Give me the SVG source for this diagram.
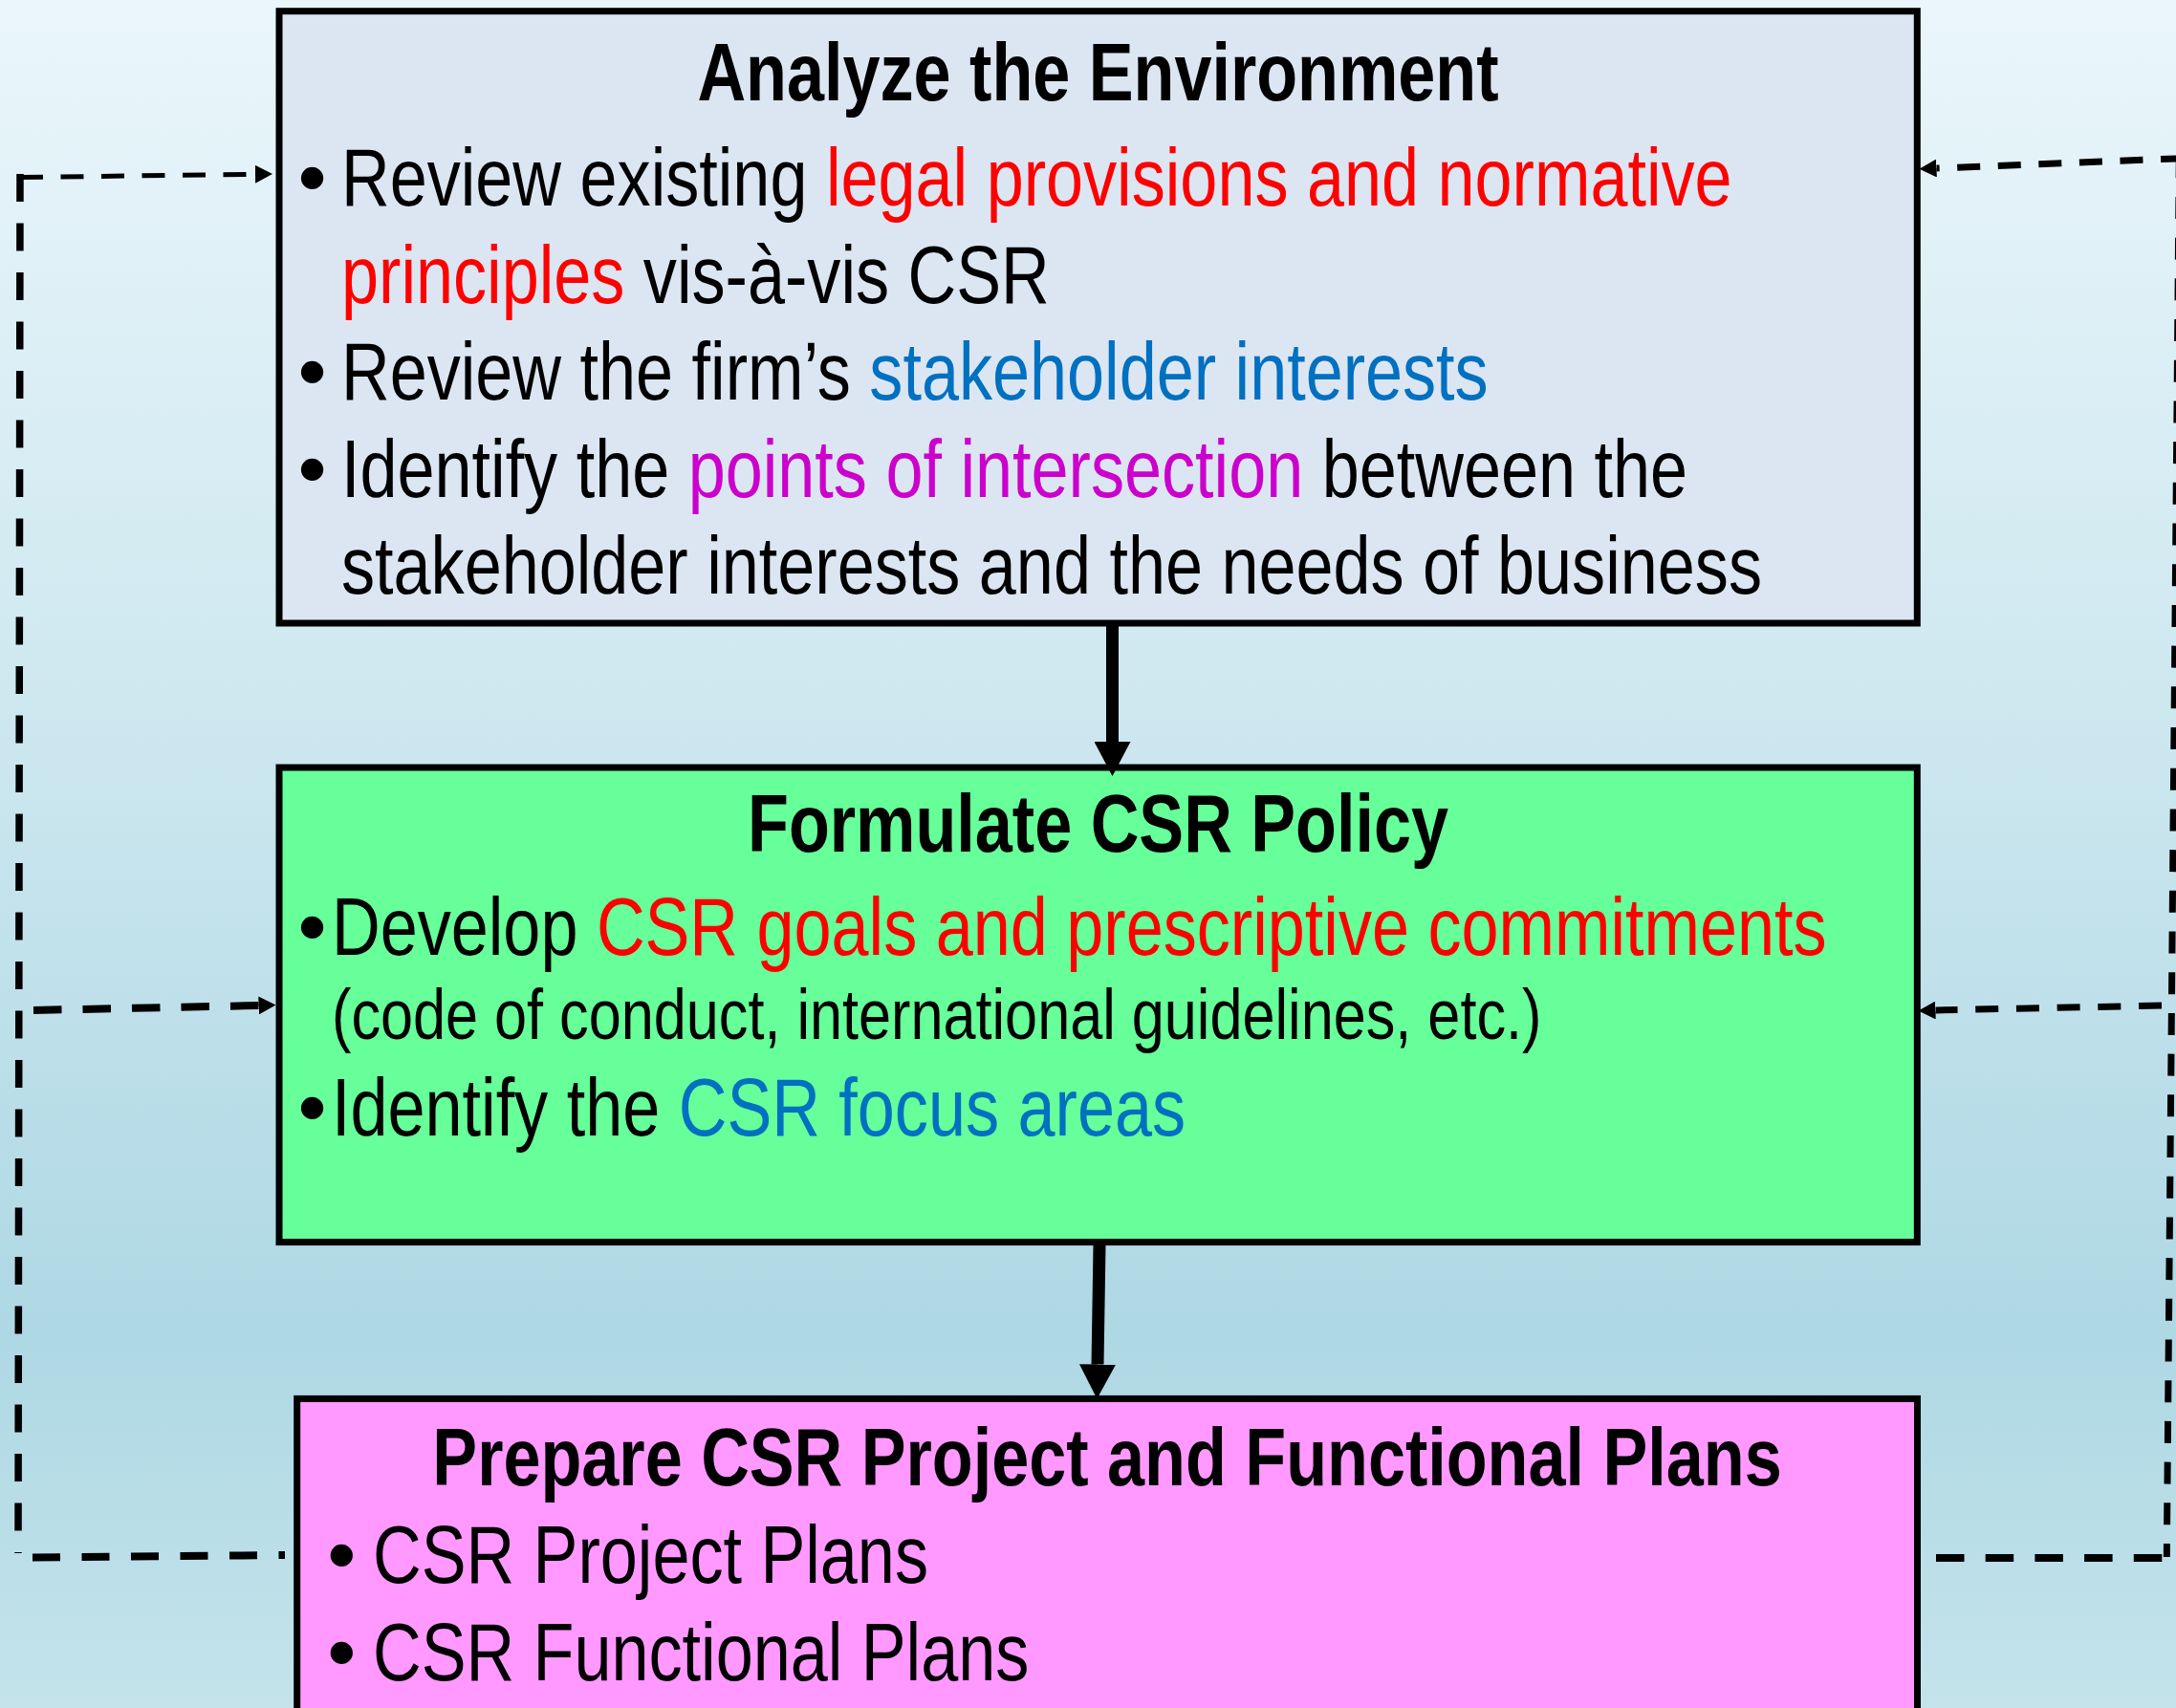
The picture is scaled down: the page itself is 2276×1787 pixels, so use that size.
<svg xmlns="http://www.w3.org/2000/svg" width="2276" height="1787" viewBox="0 0 2276 1787">
<defs>
<linearGradient id="bg" x1="0" y1="0" x2="0" y2="1">
<stop offset="0" stop-color="#eaf6fb"/>
<stop offset="0.4" stop-color="#cfe8f0"/>
<stop offset="0.78" stop-color="#aed8e4"/>
<stop offset="1" stop-color="#c4e3eb"/>
</linearGradient>
<marker id="dashHead" viewBox="0 0 18 19" refX="0" refY="9.5" markerWidth="18" markerHeight="19" markerUnits="userSpaceOnUse" orient="auto">
<path d="M0,0 L18,9.5 L0,19 Z" fill="#000"/>
</marker>
<marker id="solidHead" viewBox="0 0 36 38" refX="0" refY="19" markerWidth="36" markerHeight="38" markerUnits="userSpaceOnUse" orient="auto">
<path d="M0,0 L36,19 L0,38 Z" fill="#000"/>
</marker>
</defs>
<style>
.box{stroke:#000;stroke-width:7}
.t{font-family:"Liberation Sans Narrow","Liberation Sans",Arial,sans-serif;font-size:86px;fill:#000}
.title{font-weight:bold;text-anchor:middle}
.small{font-size:75px}
.bul{font-family:"Liberation Sans",Arial,sans-serif;font-size:86px;fill:#000;text-anchor:middle}
.red{fill:#ff0000}
.blue{fill:#0070c0}
.mag{fill:#cc00cc}
.dash{fill:none;stroke:#000;stroke-linecap:butt}
.solid{fill:none;stroke:#000;stroke-width:13}
</style>
<rect x="0" y="0" width="2276" height="1787" fill="url(#bg)"/>

<g id="analyze-environment">
<rect class="box" x="292" y="11.7" width="1713.3" height="640.3" fill="#dce6f2"/>
<text class="t title" transform="translate(1148.5 105) scale(0.816 1)" x="0" y="0">Analyze the Environment</text>
<text class="bul" x="326.5" y="215">•</text>
<text class="t" transform="translate(357 215) scale(0.816 1)" x="0" y="0">Review existing <tspan class="red">legal provisions and normative</tspan></text>
<text class="t" transform="translate(357 316.5) scale(0.816 1)" x="0" y="0"><tspan class="red">principles</tspan> vis-à-vis CSR</text>
<text class="bul" x="326.5" y="418">•</text>
<text class="t" transform="translate(357 418) scale(0.816 1)" x="0" y="0">Review the firm’s <tspan class="blue">stakeholder interests</tspan></text>
<text class="bul" x="326.5" y="519.5">•</text>
<text class="t" transform="translate(357 519.5) scale(0.816 1)" x="0" y="0">Identify the <tspan class="mag">points of intersection</tspan> between the</text>
<text class="t" transform="translate(357 621) scale(0.816 1)" x="0" y="0">stakeholder interests and the needs of business</text>
</g>

<g id="formulate-policy">
<rect class="box" x="292" y="803" width="1713.3" height="496.6" fill="#66ff99"/>
<text class="t title" transform="translate(1148.5 891) scale(0.816 1)" x="0" y="0">Formulate CSR Policy</text>
<text class="bul" x="326.5" y="998.5">•</text>
<text class="t" transform="translate(347 998.5) scale(0.816 1)" x="0" y="0">Develop <tspan class="red">CSR goals and prescriptive commitments</tspan></text>
<text class="t small" transform="translate(347 1086.7) scale(0.816 1)" x="0" y="0">(code of conduct, international guidelines, etc.)</text>
<text class="bul" x="326.5" y="1188.3">•</text>
<text class="t" transform="translate(347 1188.3) scale(0.816 1)" x="0" y="0">Identify the <tspan class="blue">CSR focus areas</tspan></text>
</g>

<g id="prepare-plans">
<rect class="box" x="310.7" y="1463.4" width="1694.8" height="340" fill="#ff99ff"/>
<text class="t title" transform="translate(1158 1553.7) scale(0.816 1)" x="0" y="0">Prepare CSR Project and Functional Plans</text>
<text class="bul" x="357.2" y="1656">•</text>
<text class="t" transform="translate(390 1656) scale(0.816 1)" x="0" y="0">CSR Project Plans</text>
<text class="bul" x="357.2" y="1757.5">•</text>
<text class="t" transform="translate(390 1757.5) scale(0.816 1)" x="0" y="0">CSR Functional Plans</text>
</g>

<g id="connectors">
<path class="solid" d="M1163.5,655 L1163.5,776" marker-end="url(#solidHead)"/>
<path class="solid" d="M1150,1303 L1148,1427.5" stroke-width="12.5" marker-end="url(#solidHead)"/>
<g id="feedback-left">
<path class="dash" d="M34,1629.5 L298,1627" stroke-width="8" stroke-dasharray="29 22.5"/>
<path class="dash" d="M21,182 L19,1625" stroke-width="7.5" stroke-dasharray="29 22.5"/>
<path class="dash" d="M21,185.5 L267,182.3" stroke-width="5" stroke-dasharray="24 18.5" marker-end="url(#dashHead)"/>
<path class="dash" d="M35,1057 L270.5,1052" stroke-width="8" stroke-dasharray="29.5 22" marker-end="url(#dashHead)"/>
</g>
<g id="feedback-right">
<path class="dash" d="M2025,1630 L2262,1630" stroke-width="8" stroke-dasharray="29.5 22.2"/>
<path class="dash" d="M2266.3,1629 L2279.3,167" stroke-width="7" stroke-dasharray="23 19.7" stroke-dashoffset="9"/>
<path class="dash" d="M2282,165.7 L2025.5,176" stroke-width="7" stroke-dasharray="24 18.6" stroke-dashoffset="2" marker-end="url(#dashHead)"/>
<path class="dash" d="M2261,1052 L2024.5,1057" stroke-width="7" stroke-dasharray="24 18.7" marker-end="url(#dashHead)"/>
</g>
</g>
</svg>
